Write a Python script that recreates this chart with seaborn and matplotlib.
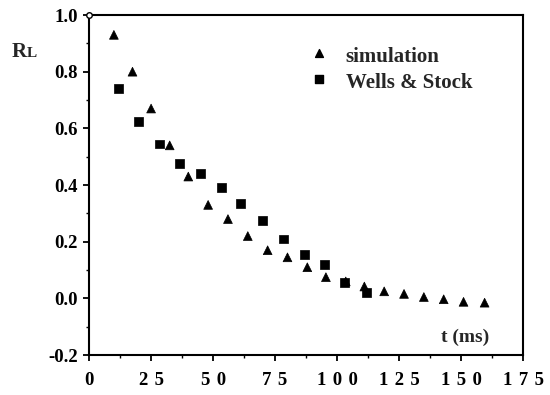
import matplotlib
matplotlib.use("Agg")
import matplotlib.pyplot as plt
from matplotlib.ticker import MultipleLocator, FixedLocator
import seaborn as sns
import pandas as pd

# Reflectance decay R_L versus time
sim_t = [10, 17.5, 25, 32.5, 40, 48, 56, 64, 72, 80, 88, 95.5, 103.5, 111, 119, 127, 135, 143, 151, 159.5]
sim_r = [0.93, 0.80, 0.67, 0.54, 0.43, 0.33, 0.28, 0.22, 0.17, 0.145, 0.11, 0.075, 0.06, 0.042,
         0.025, 0.016, 0.005, -0.003, -0.012, -0.015]

ws_t = [12, 20, 28.5, 36.5, 45, 53.5, 61, 70, 78.5, 87, 95, 103, 112]
ws_r = [0.74, 0.625, 0.545, 0.475, 0.44, 0.39, 0.335, 0.275, 0.21, 0.155, 0.12, 0.057, 0.02]

series_names = ["simulation", "Wells & Stock"]
x_ticks = [0, 25, 50, 75, 100, 125, 150, 175]
y_ticks = [-0.2, 0.0, 0.2, 0.4, 0.6, 0.8, 1.0]

df = pd.concat([
    pd.DataFrame({"t": sim_t, "R": sim_r, "series": series_names[0]}),
    pd.DataFrame({"t": ws_t, "R": ws_r, "series": series_names[1]}),
], ignore_index=True)

sns.set_theme(style="ticks")
plt.rcParams["font.family"] = ["Liberation Serif", "DejaVu Serif"]
plt.rcParams["font.weight"] = "bold"

fig = plt.figure(figsize=(5.5, 3.95), dpi=100)
ax = fig.add_axes([0.162, 0.101, 0.789, 0.861])

sns.scatterplot(data=df, x="t", y="R", hue="series", style="series",
                markers={"simulation": "^", "Wells & Stock": "s"},
                palette={"simulation": "black", "Wells & Stock": "black"},
                s=40, edgecolor="black", linewidth=0.5, ax=ax, legend=False, zorder=3)

ax.set_xlim(0, 175)
ax.set_ylim(-0.2, 1.0)
ax.set_xlabel("")
ax.set_ylabel("")

ax.xaxis.set_major_locator(FixedLocator(x_ticks))
ax.xaxis.set_minor_locator(MultipleLocator(12.5))
ax.yaxis.set_major_locator(FixedLocator(y_ticks))
ax.yaxis.set_minor_locator(MultipleLocator(0.1))
ax.set_xticklabels([" \u200a".join(str(v)) for v in x_ticks])
ax.set_yticklabels([f"{v:.1f}" for v in y_ticks])

ax.tick_params(which="major", direction="out", length=4, width=1.3, colors="black",
               labelsize=13.5)
ax.tick_params(axis="x", which="major", pad=8)
ax.tick_params(axis="y", which="major", pad=4)
ax.tick_params(which="minor", direction="out", length=2.5, width=1.0, colors="black")
for lab in ax.get_xticklabels() + ax.get_yticklabels():
    lab.set_fontweight("bold")

for sp in ax.spines.values():
    sp.set_visible(True)
    sp.set_linewidth(1.5)
    sp.set_color("black")

# small open circle at the top-left corner of the frame
ax.plot([0], [1], marker="o", ms=4, mfc="white", mec="black", mew=1.0,
        transform=ax.transAxes, clip_on=False, zorder=5)

# Axis titles
fig.text(0.022, 0.856, "R", fontsize=15, fontweight="bold", ha="left", va="baseline")
fig.text(0.049, 0.856, "L", fontsize=11, fontweight="bold", ha="left", va="baseline")
ax.text(0.921, 0.038, "t (ms)", transform=ax.transAxes, fontsize=14, fontweight="bold",
        ha="right", va="baseline")

# Legend
leg_x_marker = 0.529
leg_x_text = 0.591
for i, (name, mk) in enumerate(zip(series_names, ["^", "s"])):
    ym = 0.888 - i * 0.076
    ax.scatter([leg_x_marker], [ym], marker=mk, s=32, color="black", transform=ax.transAxes,
               clip_on=False)
    ax.text(leg_x_text, ym - 0.012, name, transform=ax.transAxes, fontsize=15,
            fontweight="bold", ha="left", va="center")

fig.savefig("out.png", dpi=100, facecolor="white")
